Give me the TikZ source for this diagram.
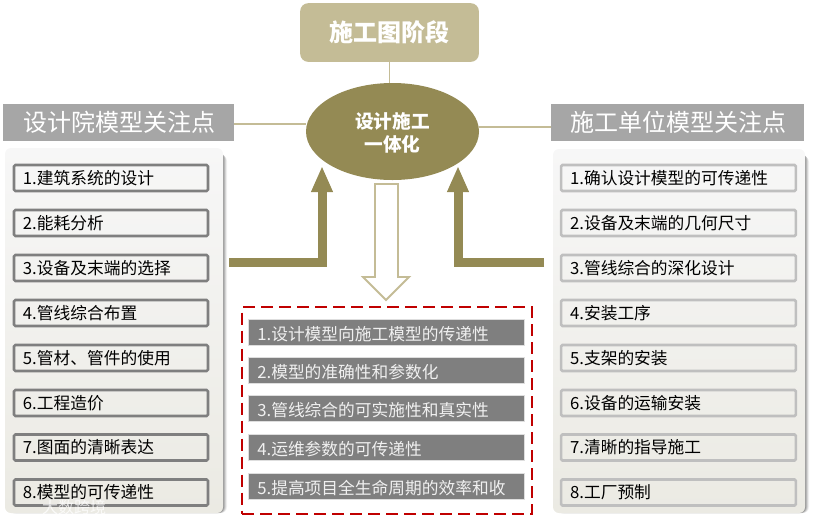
\documentclass[tikz,border=0pt]{standalone}
\usepackage{fontspec}
\setmainfont{Noto Sans CJK SC}
\usetikzlibrary{arrows.meta,shapes.geometric}
\definecolor{khaki}{HTML}{C4BC96}
\definecolor{olive}{HTML}{948A54}
\definecolor{hdr}{HTML}{A6A6A6}
\definecolor{bar}{HTML}{7F7F7F}
\definecolor{redd}{HTML}{C00000}
\definecolor{paneltop}{HTML}{F7F7F7}
\definecolor{panelbot}{HTML}{EBEAE3}
\newcommand{\fsz}[1]{\fontsize{#1}{#1}\selectfont}
\newcommand{\drop}[2]{\raisebox{-#1}[0pt][0pt]{#2}}
\tikzset{
  x=0.75pt,y=-0.75pt,
  header/.style={fill=hdr,text=white,minimum height=27.75pt,inner sep=0pt,font=\fsz{18pt}},
  panelbox/.style={rounded corners=4.5pt,top color=paneltop,bottom color=panelbot},
  itembase/.style={rounded corners=1pt,line width=1.9pt,inner sep=0pt,inner xsep=6.7pt,align=left,minimum height=19.5pt,font=\fsz{12.55pt},text=black},
  litem/.style={itembase,draw=bar,text width=132.1pt},
  ritem/.style={itembase,draw=black!25,text width=162.6pt},
  baritem/.style={draw=black!13,line width=0.6pt,fill=bar,text=white!94!black,inner sep=0pt,inner xsep=7pt,align=left,text width=193pt,minimum height=19.5pt,font=\fsz{12.55pt}},
  link/.style={draw=khaki,line width=1.1pt},
  bigarrow/.style={draw=olive,line width=6.75pt,-{Triangle[width=15pt,length=19.5pt]}},
}
\begin{document}
\begin{tikzpicture}
\useasboundingbox (0,0) rectangle (816,522);
% panel shadows
\foreach \o/\a in {5/.06,4/.10,3/.14,2/.18}{
  \fill[black,opacity=\a,rounded corners=4.5pt] (5+\o,150+\o) rectangle (223+\o-1,513);
  \fill[black,opacity=\a,rounded corners=4.5pt] (553+\o,151+\o) rectangle (805+\o-1,513);
}
\path[panelbox] (5,148) rectangle (223,513);
\path[panelbox] (553,149) rectangle (805,513);
% nodes
\node[fill=khaki,rounded corners=6pt,minimum width=134pt,minimum height=44pt,text=white,font=\fsz{18pt}\bfseries,inner sep=0pt] (stage) at (389.5,32.5) {施工图阶段};
\node[ellipse,fill=olive,minimum width=129.75pt,minimum height=72.75pt,inner sep=0pt,text=white,align=center,font=\fsz{14pt}\bfseries] (core) at (392.5,131.5) {\rule{0pt}{14.5pt}设计施工\\[3.5pt]一体化};
\node[header,minimum width=173.25pt] (lh) at (118.5,122.5) {\hspace*{1.2pt}设计院模型关注点};
\node[header,minimum width=189.75pt] (rh) at (677.5,122.5) {\hspace*{1.5pt}施工单位模型关注点};
\draw[link] (stage) -- (stage|-core.north);
\draw[link] (lh.east |- 0,124) -- (core.west |- 0,124);
\draw[link] (core.east |- 0,127) -- (rh.west |- 0,127);
% left items
\foreach \n/\y/\t in {1/178/1.建筑系统的设计,2/223/2.能耗分析,3/268/3.设备及末端的选择,4/313/4.管线综合布置,5/358/5.管材、管件的使用,6/403/6.工程造价,7/447.5/7.图面的清晰表达,8/492.5/8.模型的可传递性}{
  \node[litem] (l\n) at (111,\y) {\drop{4.8pt}{\t}};
}
% right items
\foreach \n/\y/\t in {1/178/1.确认设计模型的可传递性,2/223/2.设备及末端的几何尺寸,3/268/3.管线综合的深化设计,4/313/4.安装工序,5/358/5.支架的安装,6/403/6.设备的运输安装,7/447.5/7.清晰的指导施工,8/492.5/8.工厂预制}{
  \node[ritem] (r\n) at (678.5,\y) {\drop{4.8pt}{\t}};
}
% L arrows
\coordinate (las) at (229,262.5);
\coordinate (lat) at (322,166);
\coordinate (ras) at (544,262.5);
\coordinate (rat) at (458,166);
\draw[bigarrow] (las) -| (lat);
\draw[bigarrow] (ras) -| (rat);
% hollow arrow
\draw[draw=khaki,fill=white,line width=1.4pt,miter limit=4] (375,184) -- (398,184) -- (398,277) -- (409,277) -- (386,300) -- (363,277) -- (375,277) -- cycle;
% dashed frame
\node[draw=redd,line width=1.5pt,dash pattern=on 9pt off 4.5pt,minimum width=217.5pt,minimum height=155pt,inner sep=0pt] (frame) at (387,410.5) {};
% bars
\foreach \n/\y/\t in {1/332/1.设计模型向施工模型的传递性,2/370.5/2.模型的准确性和参数化,3/408.5/3.管线综合的可实施性和真实性,4/447.5/4.运维参数的可传递性,5/486/5.提高项目全生命周期的效率和收}{
  \node[baritem] (b\n) at (386,\y) {\drop{6.2pt}{\t}};
}
% watermark
\node[text=white,opacity=.75,font=\fsz{12pt},inner sep=0pt] (wm) at (74,507) {大数跨境};
\end{tikzpicture}
\end{document}
